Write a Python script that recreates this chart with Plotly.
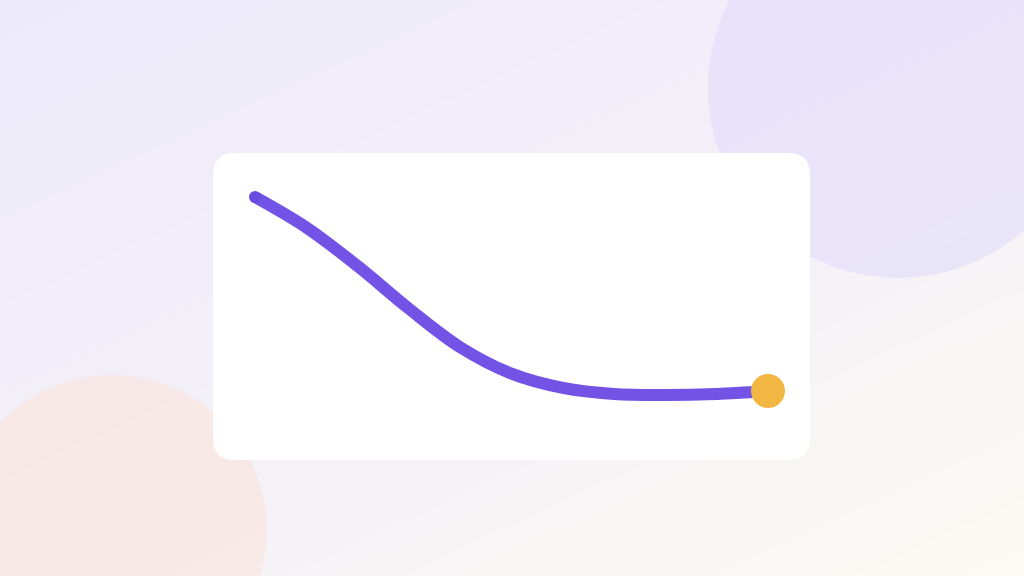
import plotly.graph_objects as go

# series (index vs. level, arbitrary units)
steps = [0, 1, 2, 3, 4, 5, 6, 7, 8, 9, 10]
level = [100, 85, 66, 45, 26, 13, 6, 3, 2.5, 3, 4.4]

# decorative backdrop pieces (pixel space of the 1024x576 canvas)
blob_x = [898, 112]
blob_y = [88, 530]
blob_size = [380, 310]
blob_color = ["#e4defb", "#f9e5e0"]

LINE = "#7352e6"
DOT = "#f2b642"

X2_RANGE = [-0.819, 10.819]
Y2_RANGE = [-29.56, 121.67]

fig = go.Figure()

# soft diagonal background wash
fig.add_trace(go.Heatmap(
    x=[0, 1024], y=[0, 576],
    z=[[0.0, 0.45], [0.55, 1.0]],
    zsmooth="best", showscale=False, hoverinfo="skip",
    colorscale=[[0, "#edeafa"], [0.5, "#f3f0f8"], [1, "#fcfaf3"]],
    xaxis="x", yaxis="y",
))
fig.add_trace(go.Scatter(
    x=blob_x, y=blob_y, mode="markers", hoverinfo="skip",
    marker=dict(size=blob_size, color=blob_color, line=dict(width=0)),
    xaxis="x", yaxis="y",
))

# the curve itself
fig.add_trace(go.Scatter(
    x=steps, y=level, mode="lines", line_shape="spline",
    line=dict(color=LINE, width=12), hoverinfo="skip",
    xaxis="x2", yaxis="y2",
))
# round start cap
fig.add_trace(go.Scatter(
    x=steps[:1], y=level[:1], mode="markers",
    marker=dict(size=12, color="#6a4be0", line=dict(width=0)),
    hoverinfo="skip", xaxis="x2", yaxis="y2",
))
# end marker
fig.add_trace(go.Scatter(
    x=steps[-1:], y=level[-1:], mode="markers",
    marker=dict(size=34, color=DOT, line=dict(width=0)),
    hoverinfo="skip", xaxis="x2", yaxis="y2",
))

# white rounded card behind the curve, spanning the whole x2/y2 range
x0, x1 = X2_RANGE
y0, y1 = Y2_RANGE
rx = 22 * (x1 - x0) / 597
ry = 22 * (y1 - y0) / 307
card = (f"M {x0+rx},{y0} L {x1-rx},{y0} Q {x1},{y0} {x1},{y0+ry} "
        f"L {x1},{y1-ry} Q {x1},{y1} {x1-rx},{y1} L {x0+rx},{y1} "
        f"Q {x0},{y1} {x0},{y1-ry} L {x0},{y0+ry} Q {x0},{y0} {x0+rx},{y0} Z")
fig.add_shape(type="path", path=card, xref="x2", yref="y2",
              fillcolor="white", line=dict(width=0), layer="below")

hidden = dict(visible=False, showgrid=False, zeroline=False, fixedrange=True)
fig.update_layout(
    width=1024, height=576,
    margin=dict(l=0, r=0, t=0, b=0),
    paper_bgcolor="#f1eef9", plot_bgcolor="rgba(0,0,0,0)",
    showlegend=False, hovermode=False,
    xaxis=dict(range=[0, 1024], domain=[0, 1], **hidden),
    yaxis=dict(range=[576, 0], domain=[0, 1], **hidden),
    xaxis2=dict(range=X2_RANGE, domain=[213 / 1024, 810 / 1024],
                anchor="y2", **hidden),
    yaxis2=dict(range=Y2_RANGE, domain=[116 / 576, 423 / 576],
                anchor="x2", **hidden),
)

fig.write_html("out.html", config={"displayModeBar": False},
               post_script="document.body.style.margin='0';")
